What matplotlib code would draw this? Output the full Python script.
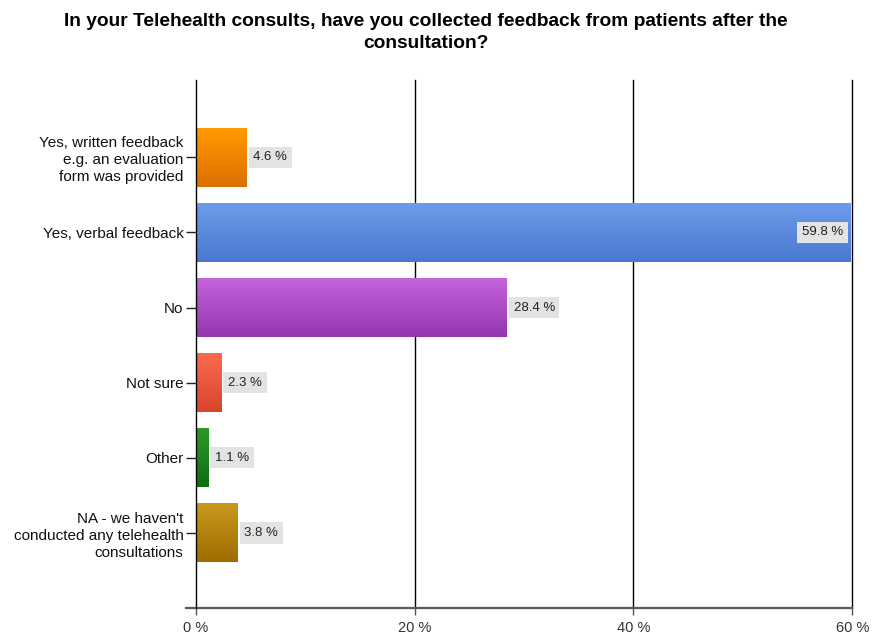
import numpy as np
import matplotlib
matplotlib.use("Agg")
import matplotlib.pyplot as plt
from matplotlib.colors import to_rgb

plt.rcParams['font.family'] = ['Liberation Sans', 'DejaVu Sans']

# Survey answers and share of respondents (%)
answers = [
    "Yes, written feedback\ne.g. an evaluation\nform was provided",
    "Yes, verbal feedback",
    "No",
    "Not sure",
    "Other",
    "NA - we haven't\nconducted any telehealth\nconsultations",
]
shares = [4.6, 59.8, 28.4, 2.3, 1.1, 3.8]

# top / bottom colours of each bar's gradient
tops = ["#ff9a00", "#6d9cea", "#c463dc", "#fa6b50", "#2a9a2a", "#c9981c"]
bottoms = ["#db6f00", "#4a78cf", "#9636ae", "#d8452c", "#0e6e10", "#9e6d00"]

xticks = [0, 20, 40, 60]
title = "In your Telehealth consults, have you collected feedback from patients after the\nconsultation?"

fig = plt.figure(figsize=(8.82, 6.37), dpi=100)
ax = fig.add_axes([0.2222, 0.0455, 0.744, 0.8289])

bar_h = 0.78
for i, (v, c1, c2) in enumerate(zip(shares, tops, bottoms)):
    grad = np.linspace(to_rgb(c1), to_rgb(c2), 64).reshape(64, 1, 3)
    ax.imshow(grad, extent=[0, v, i + bar_h / 2, i - bar_h / 2],
              aspect='auto', interpolation='bilinear', zorder=2)
    box = dict(boxstyle='square,pad=0.35', fc='#e3e3e3', ec='none')
    if v > 50:
        ax.annotate(f"{v} %", (v, i), xytext=(-5, 0), textcoords='offset points',
                    ha='right', va='center', fontsize=9.5, color='#222', bbox=box, zorder=4)
    else:
        ax.annotate(f"{v} %", (v, i), xytext=(5, 0), textcoords='offset points',
                    ha='left', va='center', fontsize=9.5, color='#222', bbox=box, zorder=4)

ax.set_xlim(0, 60)
ax.set_ylim(5 + 1.0, -1.03)

ax.set_xticks(xticks)
ax.set_xticklabels([f"{t} %" for t in xticks], fontsize=10.5, color='#333')
ax.set_yticks(range(len(answers)))
ax.set_yticklabels(answers, fontsize=11, color='#111', linespacing=1.25)
ax.tick_params(axis='y', length=7, width=1, color='#222', pad=2)
ax.tick_params(axis='x', length=5, width=1, color='#555', pad=4)

for t in xticks[1:]:
    ax.axvline(t, color='black', lw=1, zorder=1, clip_on=False)

for s in ['top', 'right']:
    ax.spines[s].set_visible(False)
ax.spines['left'].set_color('black')
ax.spines['left'].set_linewidth(1)
ax.spines['left'].set_zorder(6)
ax.spines['bottom'].set_visible(False)
ax.plot([-0.0152, 1], [0, 0], transform=ax.transAxes, color='#5a5a5a',
        lw=1.6, clip_on=False, zorder=5)

fig.text(0.483, 0.98, title, ha='center', va='top', fontsize=13.8,
         fontweight='bold', linespacing=1.4)

fig.savefig("out.png", dpi=100)
